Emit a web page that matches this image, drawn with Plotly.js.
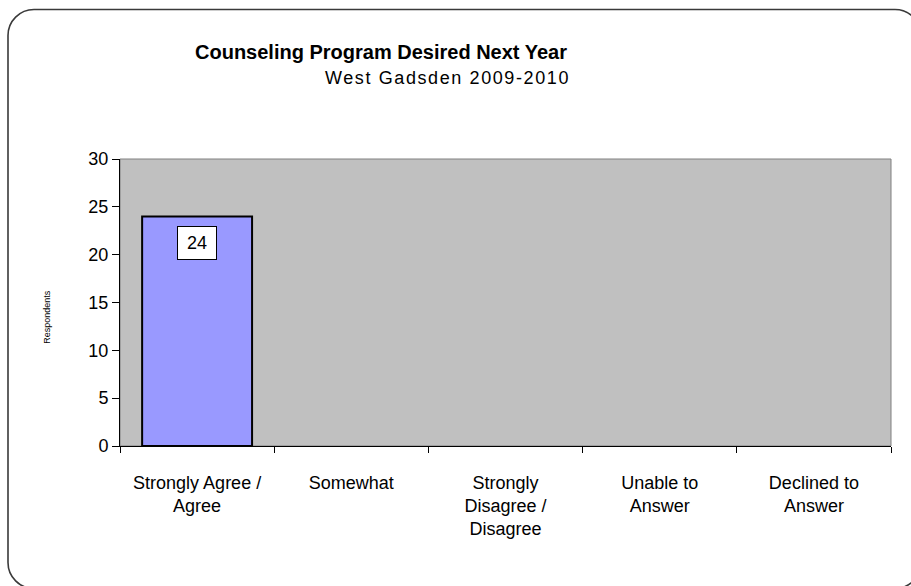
<!DOCTYPE html>
<html>
<head>
<meta charset="utf-8">
<script src="https://cdn.plot.ly/plotly-3.0.1.min.js"></script>
<style>
  html, body { margin: 0; padding: 0; background: #ffffff; overflow: hidden; }
  #wrap { position: relative; width: 911px; height: 586px; overflow: hidden; }
  #frame { position: absolute; left: 0; top: 0; }
  #chart { position: absolute; left: 0; top: 0; width: 911px; height: 586px; }
</style>
</head>
<body>
<div id="wrap">
  <svg id="frame" width="911" height="586" viewBox="0 0 911 586">
    <rect x="8" y="9.5" width="913" height="579" rx="26" ry="26"
          fill="none" stroke="#3a3a3a" stroke-width="1.6"/>
  </svg>
  <div id="chart"></div>
</div>
<script>
const categories = [
  "Strongly Agree /<br>Agree",
  "Somewhat",
  "Strongly<br>Disagree /<br>Disagree",
  "Unable to<br>Answer",
  "Declined to<br>Answer"
];
const values = [24, 0, 0, 0, 0];
const yTicks = [0, 5, 10, 15, 20, 25, 30];
const titleText = "Counseling Program Desired Next Year";
const subtitleText = "West Gadsden 2009-2010";
const yTitleText = "Respondents";

const FONT = "Liberation Sans, Arial, sans-serif";

const trace = {
  type: "bar",
  x: categories,
  y: values,
  marker: {
    color: "#9999FF",
    line: { color: "#000000", width: values.map(v => (v > 0 ? 2 : 0)) }
  },
  hoverinfo: "skip"
};

const annotations = [];
values.forEach((v, i) => {
  if (v > 0) {
    annotations.push({
      x: categories[i], y: v, xref: "x", yref: "y",
      text: String(v), showarrow: false,
      yanchor: "top", yshift: -10,
      bgcolor: "#ffffff", bordercolor: "#000000", borderwidth: 1,
      borderpad: 5, width: 28, height: 22,
      font: { family: FONT, size: 18, color: "#000" }
    });
  }
});
annotations.push({
  text: "<b>" + titleText + "</b>", xref: "paper", yref: "paper",
  x: 0.3385, y: 1.372, xanchor: "center", yanchor: "middle", showarrow: false,
  font: { family: FONT, size: 20, color: "#000" }
});
annotations.push({
  text: "<span style='letter-spacing:1.6px'>" + subtitleText + "</span>", xref: "paper", yref: "paper",
  x: 0.425, y: 1.283, xanchor: "center", yanchor: "middle", showarrow: false,
  font: { family: FONT, size: 18, color: "#000" }
});
annotations.push({
  text: yTitleText, xref: "paper", yref: "paper",
  x: -0.0947, y: 0.45, xanchor: "center", yanchor: "middle", showarrow: false,
  textangle: -90,
  font: { family: FONT, size: 9, color: "#000" }
});

const layout = {
  width: 911, height: 586,
  margin: { l: 120, r: 20, t: 159, b: 140, pad: 0 },
  paper_bgcolor: "rgba(0,0,0,0)",
  plot_bgcolor: "#C0C0C0",
  showlegend: false,
  bargap: 0.287,
  font: { family: FONT, size: 18, color: "#000" },
  xaxis: {
    type: "category",
    showline: true, linecolor: "#000", linewidth: 1,
    ticks: "outside", ticklen: 6, tickcolor: "#000", tickwidth: 1,
    tickson: "boundaries",
    ticklabelstandoff: 20,
    showgrid: false, zeroline: false,
    tickfont: { family: FONT, size: 18, color: "#000" },
    fixedrange: true
  },
  yaxis: {
    range: [0, 30],
    tickvals: yTicks,
    showline: true, linecolor: "#000", linewidth: 1,
    ticks: "outside", ticklen: 7, tickcolor: "#000", tickwidth: 1,
    showgrid: false, zeroline: false,
    tickfont: { family: FONT, size: 18, color: "#000" },
    fixedrange: true
  },
  shapes: [{
    type: "rect", xref: "paper", yref: "paper", x0: 0, x1: 1, y0: 0, y1: 1,
    line: { color: "#808080", width: 1 }, layer: "below"
  }],
  annotations: annotations
};

Plotly.newPlot("chart", [trace], layout, { displayModeBar: false, staticPlot: true });
</script>
</body>
</html>
